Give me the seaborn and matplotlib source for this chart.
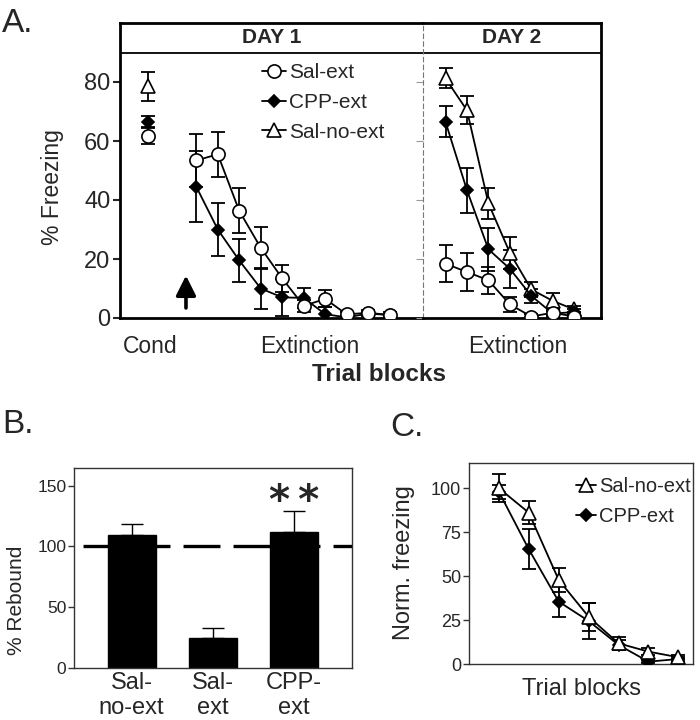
import numpy as np
import pandas as pd
import matplotlib
matplotlib.use("Agg")
import matplotlib.pyplot as plt
from matplotlib.lines import Line2D
import seaborn as sns

sns.set_style("ticks")
plt.rcParams["font.family"] = ["Liberation Sans", "DejaVu Sans"]

# ---------------- data ----------------
# Panel A: conditioning block
cond_sal_ext, cond_sal_ext_err = 61.7, 2.8
cond_cpp_ext, cond_cpp_ext_err = 66.6, 1.9
cond_salno, cond_salno_err = 78.6, 4.9

# Panel A: day 1 extinction (10 blocks)
day1_sal_ext = [53.4, 55.5, 36.3, 23.8, 13.4, 4.1, 6.5, 1.2, 1.8, 1.0]
day1_sal_ext_err = [9.0, 7.7, 7.6, 7.2, 4.7, 2.0, 2.9, 1.0, 1.0, 1.0]
day1_cpp_ext = [44.5, 30.0, 19.5, 10.0, 7.0, 6.8, 1.3, 0.2, 1.5, 1.0]
day1_cpp_ext_err = [12.0, 8.9, 7.3, 7.0, 6.2, 3.4, 2.5, 0.5, 0.5, 0.5]

# Panel A: day 2 extinction (7 blocks)
day2_salno = [81.2, 70.4, 38.9, 22.1, 9.7, 5.8, 2.9]
day2_salno_err = [3.4, 4.7, 5.3, 5.5, 2.6, 2.6, 1.0]
day2_cpp_ext = [66.5, 43.3, 23.3, 16.7, 7.5, 1.5, 2.0]
day2_cpp_ext_err = [5.3, 7.7, 7.3, 6.5, 2.5, 1.0, 1.0]
day2_sal_ext = [18.4, 15.6, 12.8, 4.6, 0.5, 1.8, 0.5]
day2_sal_ext_err = [6.3, 6.6, 4.5, 2.5, 0.8, 0.8, 0.8]

# Panel B: rebound
rebound_groups = ["Sal-\nno-ext", "Sal-\next", "CPP-\next"]
rebound = [109.4, 24.8, 112.2]
rebound_err = [9.0, 7.7, 17.3]

# Panel C: normalized freezing
norm_salno = [100.0, 86.1, 47.9, 27.0, 11.9, 7.2, 4.0]
norm_salno_err = [8.0, 6.6, 6.6, 8.0, 3.5, 2.0, 1.0]
norm_cpp = [98.0, 65.3, 35.6, 24.6, 11.0, 1.5, 3.0]
norm_cpp_err = [4.0, 11.3, 8.7, 10.0, 3.0, 1.0, 1.0]

# ---------------- styles ----------------
STY = {
    "Sal-ext": dict(marker="o", mfc="white", ms=9.5),
    "CPP-ext": dict(marker="D", mfc="black", ms=6.0),
    "Sal-no-ext": dict(marker="^", mfc="white", ms=9.5),
}


def series(ax, x, y, err, name, connect=True, capsize=4.7, elw=1.3):
    st = STY[name]
    ax.errorbar(x, y, yerr=err, fmt="none", ecolor="black", elinewidth=elw,
                capsize=capsize, capthick=elw, zorder=2)
    df = pd.DataFrame({"x": np.asarray(x, float), "y": np.asarray(y, float)})
    sns.lineplot(data=df, x="x", y="y", ax=ax, color="black",
                 lw=1.3 if connect else 0, marker=st["marker"],
                 markersize=st["ms"], markerfacecolor=st["mfc"],
                 markeredgecolor="black", markeredgewidth=1.2,
                 legend=False, zorder=3, estimator=None, sort=False)


fig = plt.figure(figsize=(7, 7.2), dpi=100)
W, H = 700.0, 720.0

# ---------------- Panel A ----------------
axA1 = fig.add_axes([120 / W, 402 / H, 303 / W, 295 / H])
axA2 = fig.add_axes([423 / W, 402 / H, 178 / W, 295 / H])

x_cond = [1.31]
x_day1 = 3.55 + np.arange(len(day1_sal_ext))
x_day2 = 1.05 + np.arange(len(day2_salno))

series(axA1, x_cond, [cond_sal_ext], [cond_sal_ext_err], "Sal-ext", connect=False)
series(axA1, x_cond, [cond_cpp_ext], [cond_cpp_ext_err], "CPP-ext", connect=False)
series(axA1, x_cond, [cond_salno], [cond_salno_err], "Sal-no-ext", connect=False)
series(axA1, x_day1, day1_cpp_ext, day1_cpp_ext_err, "CPP-ext")
series(axA1, x_day1, day1_sal_ext, day1_sal_ext_err, "Sal-ext")

series(axA2, x_day2, day2_salno, day2_salno_err, "Sal-no-ext")
series(axA2, x_day2, day2_cpp_ext, day2_cpp_ext_err, "CPP-ext")
series(axA2, x_day2, day2_sal_ext, day2_sal_ext_err, "Sal-ext")

for ax, xmax in ((axA1, 14.1), (axA2, 8.3)):
    ax.set_xlim(0, xmax)
    ax.set_ylim(0, 100)
    ax.set_xlabel("")
    ax.set_ylabel("")
    ax.axhline(90, color="black", lw=1.3, zorder=1)
    for s in ax.spines.values():
        s.set_linewidth(2.0)
        s.set_color("black")

axA1.spines["right"].set_visible(False)
axA1.set_yticks([0, 20, 40, 60, 80])
axA1.tick_params(axis="y", labelsize=17, length=5, width=1.5, pad=2)
axA1.set_xticks([1.42, 8.84], ["Cond", "Extinction"])
axA1.tick_params(axis="x", labelsize=16.5, length=0, pad=12)
axA1.text(7.05, 95, "DAY 1", ha="center", va="center", fontsize=15, fontweight="bold")

axA2.spines["left"].set_linestyle((0, (4, 3)))
axA2.spines["left"].set_linewidth(0.8)
axA2.spines["left"].set_color("#777777")
axA2.set_yticks([0, 20, 40, 60, 80])
axA2.tick_params(axis="y", labelleft=False, length=5, width=0.8, color="#999999")
axA2.set_xticks([4.41], ["Extinction"])
axA2.tick_params(axis="x", labelsize=16.5, length=0, pad=12)
axA2.text(4.15, 95, "DAY 2", ha="center", va="center", fontsize=15, fontweight="bold")

axA1.annotate("", xy=(3.07, 14.4), xytext=(3.07, 3.4),
              arrowprops=dict(arrowstyle="-|>", lw=2.6, color="black",
                              mutation_scale=30, shrinkA=0, shrinkB=0))

handlesA = [Line2D([], [], color="black", lw=1.3, marker=STY[n]["marker"],
                   ms=STY[n]["ms"], mfc=STY[n]["mfc"], mec="black", mew=1.2)
            for n in ("Sal-ext", "CPP-ext", "Sal-no-ext")]
axA1.legend(handlesA, ["Sal-ext", "CPP-ext", "Sal-no-ext"], loc="upper left",
            bbox_to_anchor=(262 / W, 1 - 63 / H), bbox_transform=fig.transFigure,
            frameon=False, fontsize=15, handlelength=1.15, handletextpad=0.15,
            labelspacing=0.52, borderpad=0, borderaxespad=0)

fig.text(52 / W, 1 - 187.5 / H, "% Freezing", rotation=90, ha="center", va="center", fontsize=16.5)
fig.text(378.5 / W, 1 - 374 / H, "Trial blocks", ha="center", va="center",
         fontsize=17.5, fontweight="bold")

# ---------------- Panel B ----------------
axB = fig.add_axes([74 / W, 52.3 / H, 277.5 / W, 200 / H])
dfB = pd.DataFrame({"group": rebound_groups, "rebound": rebound})
sns.barplot(data=dfB, x="group", y="rebound", ax=axB, color="black",
            width=0.59, errorbar=None, saturation=1, edgecolor="black")
axB.errorbar(np.arange(len(rebound)), rebound, yerr=[np.zeros(len(rebound)), rebound_err],
             fmt="none", ecolor="black", elinewidth=1.0, capsize=8, capthick=1.0, zorder=1)
lwd = 2.4
axB.axhline(100, color="black", lw=lwd, zorder=4,
            ls=(29.5 / lwd, (26.6 / lwd, 9.4 / lwd)))
axB.set_xlim(-0.71, 2.71)
axB.set_ylim(0, 165)
axB.set_yticks([0, 50, 100, 150])
axB.set_xlabel("")
axB.set_ylabel("")
axB.tick_params(axis="y", labelsize=12.5, length=4, width=1, pad=1.5, color="#333333")
axB.tick_params(axis="x", labelsize=17, length=0, pad=3)
for s in axB.spines.values():
    s.set_linewidth(1.0)
    s.set_color("#333333")
axB.text(2, 128, "*\u2009*", ha="center", va="baseline", fontsize=29,
         family="DejaVu Sans", fontweight="bold")
fig.text(17 / W, 1 - 600 / H, "% Rebound", rotation=90, ha="center", va="center", fontsize=15)

# ---------------- Panel C ----------------
axC = fig.add_axes([469 / W, 55.7 / H, 224.3 / W, 201.6 / H])
x_c = np.arange(len(norm_salno))
series(axC, x_c, norm_cpp, norm_cpp_err, "CPP-ext", capsize=5, elw=1.3)
series(axC, x_c, norm_salno, norm_salno_err, "Sal-no-ext", capsize=5, elw=1.3)
axC.set_xlim(-1, 6.5)
axC.set_ylim(0, 114.5)
axC.set_xticks([])
axC.set_yticks([0, 25, 50, 75, 100])
axC.set_ylabel("")
axC.set_xlabel("Trial blocks", fontsize=17, labelpad=10)
axC.tick_params(axis="y", labelsize=13, length=4, width=1, pad=1.5, color="#333333")
for s in axC.spines.values():
    s.set_linewidth(1.0)
    s.set_color("#333333")
handlesC = [Line2D([], [], color="black", lw=1.3, marker=STY[n]["marker"],
                   ms=STY[n]["ms"], mfc=STY[n]["mfc"], mec="black", mew=1.2)
            for n in ("Sal-no-ext", "CPP-ext")]
axC.legend(handlesC, ["Sal-no-ext", "CPP-ext"], loc="upper left",
           bbox_to_anchor=(576 / W, 1 - 477 / H), bbox_transform=fig.transFigure,
           frameon=False, fontsize=14.5, handlelength=1.0, handletextpad=0.15,
           labelspacing=0.55, borderpad=0, borderaxespad=0)
fig.text(404 / W, 1 - 562.5 / H, "Norm. freezing", rotation=90, ha="center", va="center", fontsize=17)

# ---------------- panel letters ----------------
fig.text(2 / W, 1 - 32 / H, "A.", fontsize=24, va="baseline", ha="left")
fig.text(2 / W, 1 - 433 / H, "B.", fontsize=24, va="baseline", ha="left")
fig.text(390 / W, 1 - 436 / H, "C.", fontsize=24, va="baseline", ha="left")

fig.savefig("out.png", dpi=100)
